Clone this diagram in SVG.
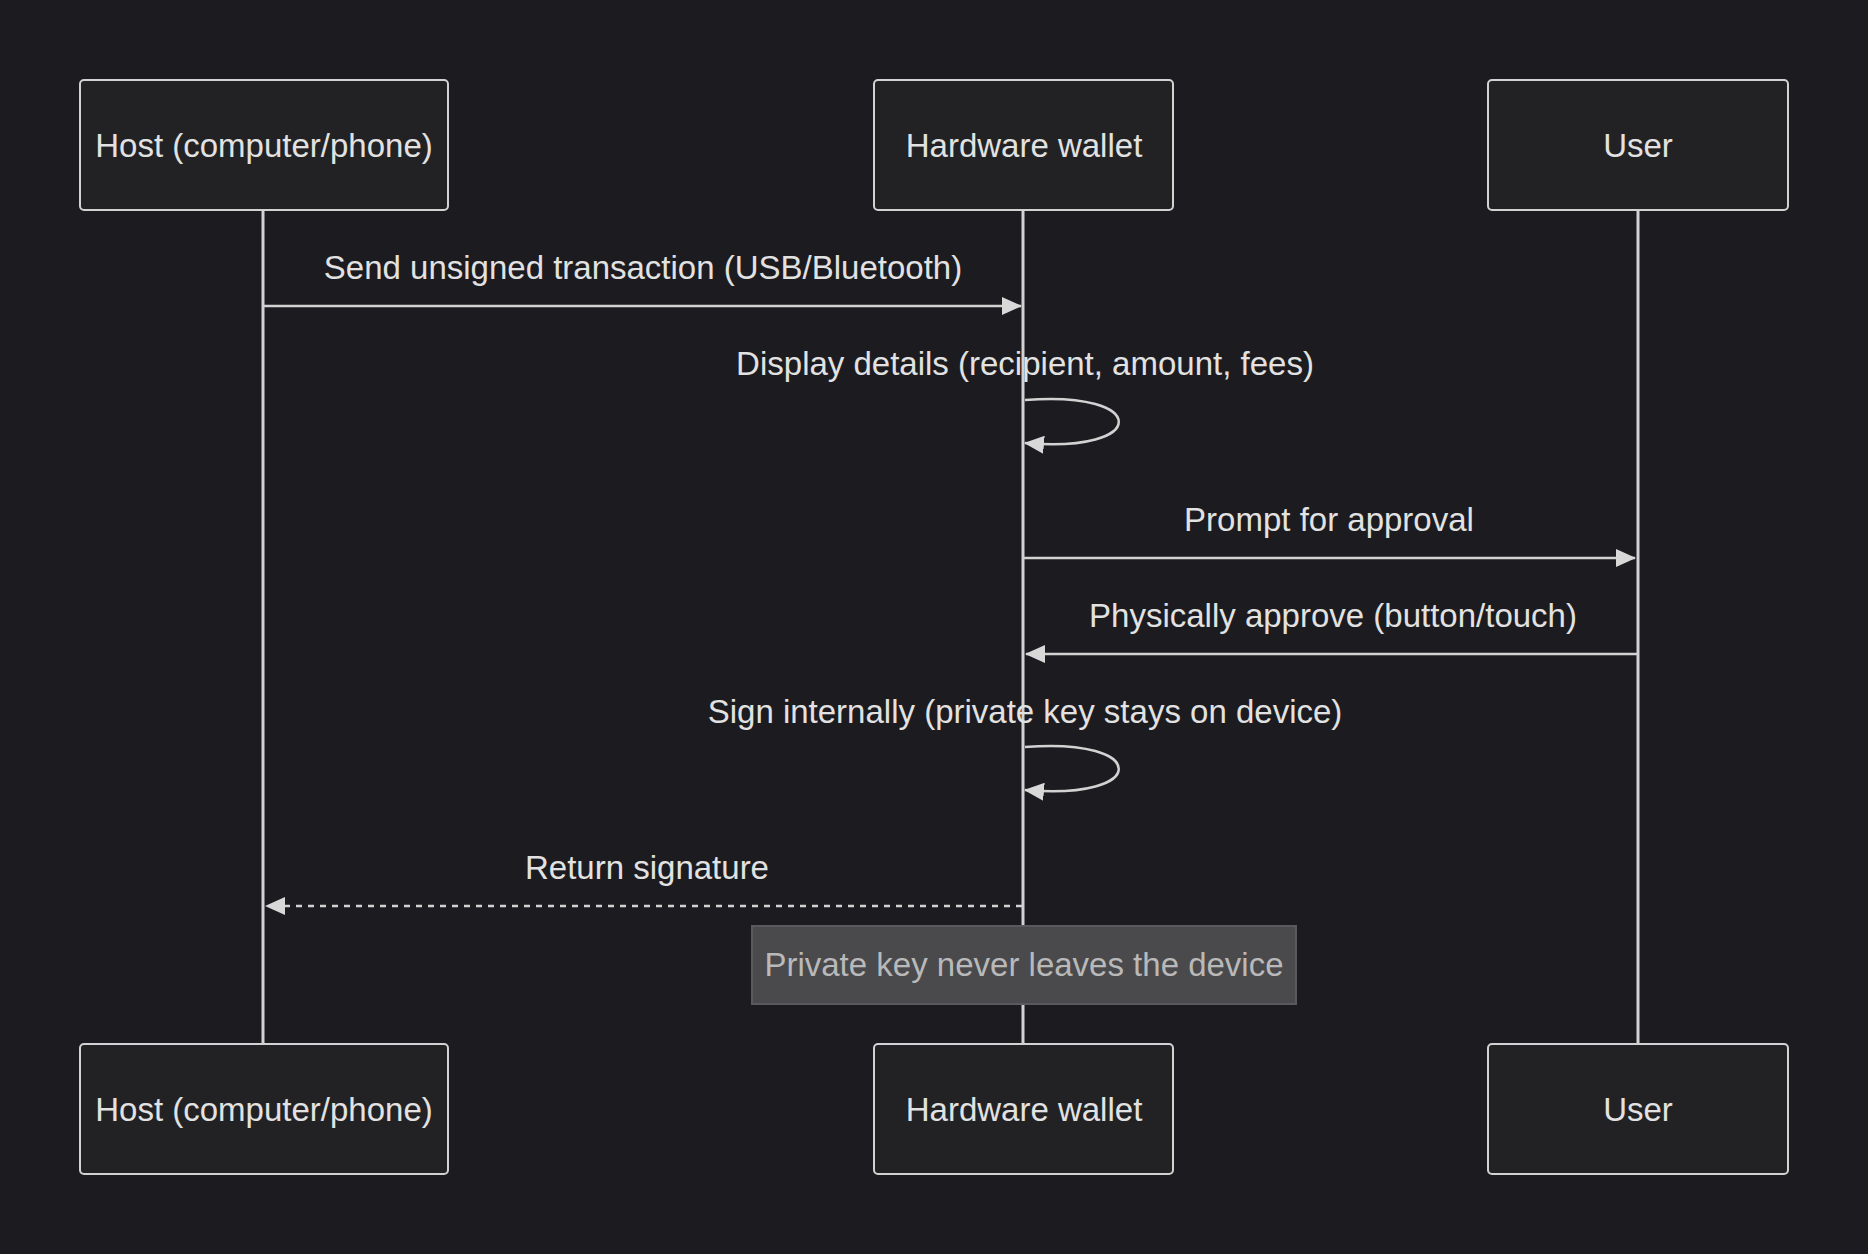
<svg xmlns="http://www.w3.org/2000/svg" width="1868" height="1254" viewBox="0 0 1868 1254">
<style>
.actor rect{fill:#222225;stroke:#d2d2d2;stroke-width:2}
.t{font-family:"Liberation Sans",Arial,sans-serif;font-size:33px;fill:#e2e2e2;text-anchor:middle}
.life{stroke:#d2d2d2;stroke-width:3}
.msg{stroke:#d2d2d2;stroke-width:2.5;fill:none}
.dash{stroke-dasharray:6 6}
.note rect{fill:#4a4a4d;stroke:#5a5a5d;stroke-width:2}
.note text{fill:#b9b9b9}
</style>
<defs>
<marker id="ah" viewBox="0 0 20 18" refX="19" refY="9" markerWidth="20" markerHeight="18" markerUnits="userSpaceOnUse" orient="auto">
<path d="M0,0 L20,9 L0,18 Z" fill="#d8d8d8"/>
</marker>
</defs>
<rect width="1868" height="1254" fill="#1c1b1f"/>
<g id="lifelines">
<line class="life" x1="263" y1="210" x2="263" y2="1044"/>
<line class="life" x1="1023" y1="210" x2="1023" y2="1044"/>
<line class="life" x1="1638" y1="210" x2="1638" y2="1044"/>
</g>
<g id="actor-host-top" class="actor"><rect x="80" y="80" width="368" height="130" rx="4"/><text class="t" x="264" y="157">Host (computer/phone)</text></g>
<g id="actor-wallet-top" class="actor"><rect x="874" y="80" width="299" height="130" rx="4"/><text class="t" x="1024" y="157">Hardware wallet</text></g>
<g id="actor-user-top" class="actor"><rect x="1488" y="80" width="300" height="130" rx="4"/><text class="t" x="1638" y="157">User</text></g>
<g id="actor-host-bottom" class="actor"><rect x="80" y="1044" width="368" height="130" rx="4"/><text class="t" x="264" y="1121">Host (computer/phone)</text></g>
<g id="actor-wallet-bottom" class="actor"><rect x="874" y="1044" width="299" height="130" rx="4"/><text class="t" x="1024" y="1121">Hardware wallet</text></g>
<g id="actor-user-bottom" class="actor"><rect x="1488" y="1044" width="300" height="130" rx="4"/><text class="t" x="1638" y="1121">User</text></g>
<g id="connectors">
<line class="msg" x1="263" y1="306" x2="1021" y2="306" marker-end="url(#ah)"/>
<path class="msg" d="M1025,400 C1150,390 1150,454 1025,443" marker-end="url(#ah)"/>
<line class="msg" x1="1024" y1="558" x2="1635" y2="558" marker-end="url(#ah)"/>
<line class="msg" x1="1638" y1="654" x2="1026" y2="654" marker-end="url(#ah)"/>
<path class="msg" d="M1025,747 C1150,737 1150,801 1025,790" marker-end="url(#ah)"/>
<line class="msg dash" x1="1022" y1="906" x2="266" y2="906" marker-end="url(#ah)"/>
</g>
<g id="labels">
<text class="t" x="643" y="279">Send unsigned transaction (USB/Bluetooth)</text>
<text class="t" x="1025" y="375">Display details (recipient, amount, fees)</text>
<text class="t" x="1329" y="531">Prompt for approval</text>
<text class="t" x="1333" y="627">Physically approve (button/touch)</text>
<text class="t" x="1025" y="723">Sign internally (private key stays on device)</text>
<text class="t" x="647" y="879">Return signature</text>
</g>
<g id="note" class="note"><rect x="752" y="926" width="544" height="78"/><text class="t" x="1024" y="976">Private key never leaves the device</text></g>
</svg>
